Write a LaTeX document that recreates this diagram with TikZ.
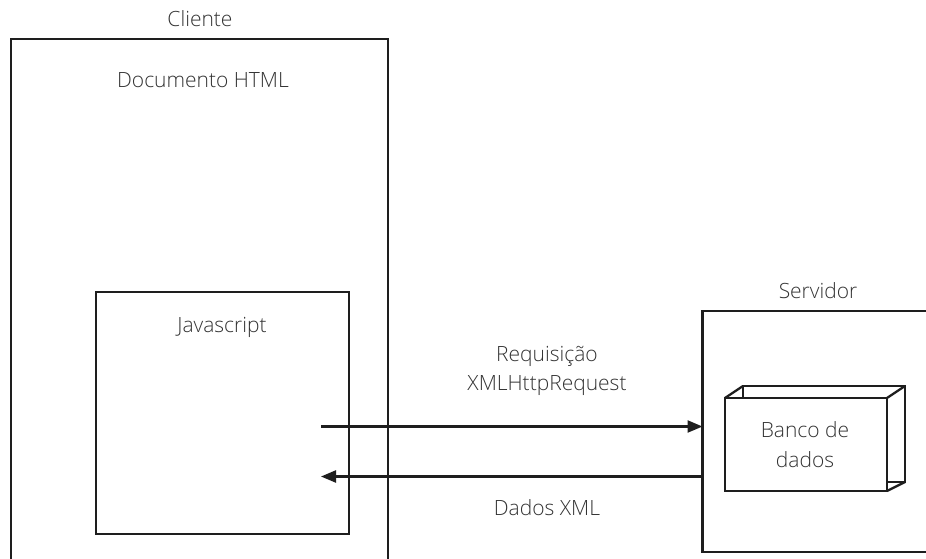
\documentclass[tikz,border=0pt]{standalone}
\usepackage{fontspec}
\setmainfont{Open Sans Light}
\usepackage{xcolor}
\usepackage{tikz}
\usetikzlibrary{shapes, arrows.meta, positioning}

\definecolor{linegray}{HTML}{1E1E1E}
\definecolor{textgray}{HTML}{333333}

\begin{document}
\begin{tikzpicture}
  [
    x=1pt, y=-1pt,
    Box/.style={rectangle, draw=linegray, line width=2.3pt, fill=white, inner sep=0pt, outer sep=0pt},
    Label/.style={text=textgray, font=\fontsize{21}{29.5}\selectfont, align=center, inner sep=0pt},
    Link/.style={draw=linegray, line width=2.3pt, -{Triangle[length=15pt, width=12pt]}}
  ]
  \clip (0, 0) rectangle (926, 558);

  % Boxes
  \node[Box, minimum width=377pt, minimum height=540pt] (html) at (199.5, 309) {};
  \node[Box, minimum width=253pt, minimum height=242pt] (js) at (222.5, 413) {};
  \node[Box, minimum width=260pt, minimum height=241pt] (srv) at (832.5, 431.2) {};

  % Database: back face first, front face on top
  \draw[linegray, line width=2.3pt, fill=white] (743, 386) rectangle (905, 482);
  \node[Box, minimum width=162pt, minimum height=93pt] (db) at (806, 444.5) {};
  \draw[linegray, line width=2.3pt] (db.north west) -- ++(18, -12);
  \draw[linegray, line width=2.3pt] (db.north east) -- ++(18, -12);
  \draw[linegray, line width=2.3pt] (db.south east) -- ++(18, -9);

  % Labels
  \node[Label] (cli) at (200, 19) {Cliente};
  \node[Label] (doc) at (203, 80) {Documento HTML};
  \node[Label] (jsl) at (222, 327) {Javascript};
  \node[Label] (srvl) at (818, 291) {Servidor};
  \node[Label] (dbl) at (805, 444.5) {Banco de\\dados};
  \node[Label] (req) at (547, 371) {Requisição\\XMLHttpRequest};
  \node[Label] (resp) at (547, 508) {Dados XML};

  % Lines
  \coordinate (reqa) at (321, 426.5);
  \coordinate (respb) at (321, 476.5);
  \path[Link] (reqa) -- (reqa -| srv.west);
  \path[Link] (respb -| srv.west) -- (respb);

\end{tikzpicture}
\end{document}
